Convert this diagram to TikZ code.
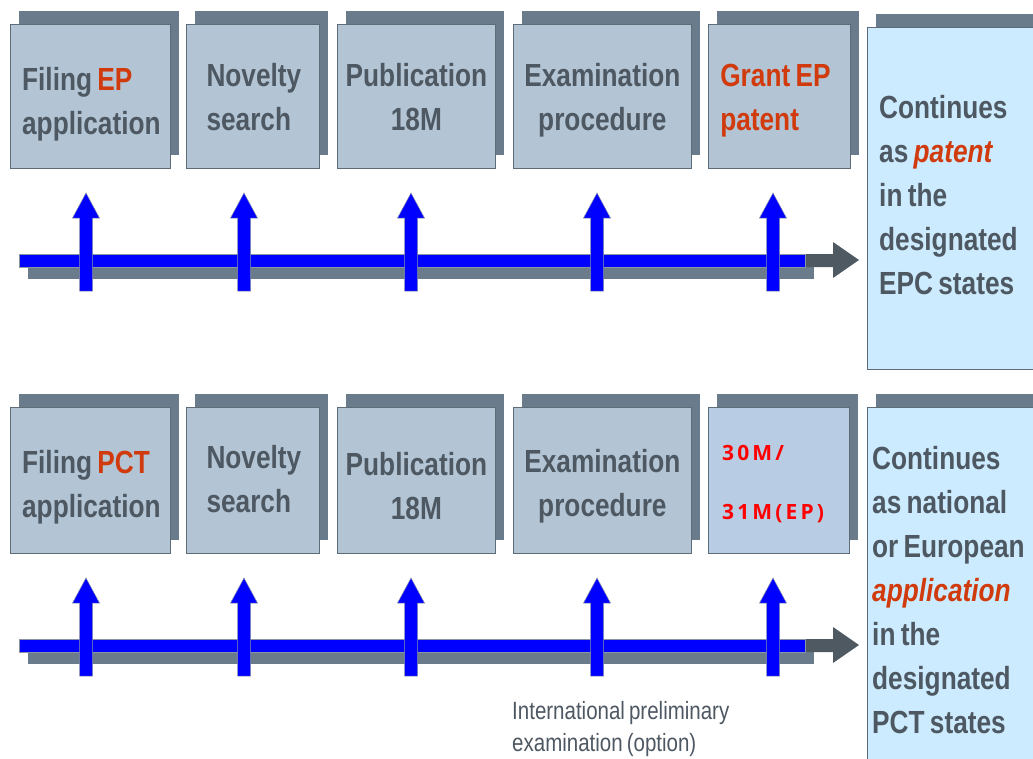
\documentclass[tikz,border=0pt]{standalone}
\usepackage{fontspec}
\setmainfont{Liberation Sans}[FakeStretch=0.82, WordSpace=0.72]
\newfontfamily\numfont{Open Sans}[LetterSpace=15]
\usetikzlibrary{shadows,calc}
\definecolor{boxfill}{HTML}{B3C5D4}
\definecolor{boxfillb}{HTML}{B8CCE3}
\definecolor{boxshadow}{HTML}{6A7B8C}
\definecolor{boxline}{HTML}{5E6C78}
\definecolor{txt}{HTML}{4E5862}
\definecolor{redtxt}{HTML}{D03A0C}
\definecolor{lightbox}{HTML}{CCEBFE}
\definecolor{arrowblue}{HTML}{0000FF}
\definecolor{arrowdark}{HTML}{4F5962}
\definecolor{arrowline}{HTML}{8A94A6}
\tikzset{
  stagebox/.style={draw=boxline, line width=0.8pt, fill=boxfill, anchor=north west,
    minimum height=144pt, inner sep=0pt,
    general shadow={fill=boxshadow, shadow xshift=9pt, shadow yshift=13pt}},
  stagetext/.style={anchor=north, inner sep=0pt, text=txt,
    font=\fontsize{32}{44}\selectfont\bfseries},
  resultbox/.style={draw=boxline, line width=0.8pt, fill=lightbox, anchor=north west,
    minimum width=200pt, inner sep=0pt,
    general shadow={fill=boxshadow, shadow xshift=9pt, shadow yshift=13pt}},
  resulttext/.style={anchor=north west, inner sep=0pt, align=left, text=txt,
    font=\fontsize{32}{44}\selectfont\bfseries},
  barshadow/.style={fill=boxshadow},
  bardark/.style={fill=arrowdark},
  barblue/.style={fill=arrowblue, draw=arrowline, line width=0.5pt},
  uparrow/.style={fill=arrowblue, draw=arrowline, line width=0.5pt},
  note/.style={anchor=north west, inner sep=0pt, align=left, text=txt,
    font=\fontsize{25}{32}\selectfont}
}
% first-line strut height = 0.7 * 44 = 30.8
\begin{document}
\begin{tikzpicture}[x=1pt,y=-1pt]
\useasboundingbox (0,0) rectangle (1033,758);
\clip (0,0) rectangle (1033,758);

% ---------- top row ----------
\node[stagebox, minimum width=160pt] (b1) at (10,24) {};
\node[stagebox, minimum width=133pt] (b2) at (186,24) {};
\node[stagebox, minimum width=158pt] (b3) at (337,24) {};
\node[stagebox, minimum width=178pt] (b4) at (513,24) {};
\node[stagebox, minimum width=142pt] (b5) at (708,24) {};
\node[stagetext, align=left] (tb1) at ($(b1.north)+(1,66-30.8)$) {\strut Filing \textcolor{redtxt}{EP}\\application};
\node[stagetext, align=left] (tb2) at ($(b2.north)+(1,62-30.8)$) {\strut Novelty\\search};
\node[stagetext, align=center] (tb3) at ($(b3.north)+(0,62-30.8)$) {\strut Publication\\18M};
\node[stagetext, align=center] (tb4) at ($(b4.north)+(0,62-30.8)$) {\strut Examination\\procedure};
\node[stagetext, align=left, text=redtxt] (tb5) at ($(b5.north)+(-4,62-30.8)$) {\strut Grant EP\\patent};
\node[resultbox, minimum height=342pt] (r1) at (867,27) {};
\node[resulttext] (tr1) at ($(r1.north west)+(12,91-30.8)$)
  {\strut Continues\\as \textcolor{redtxt}{\itshape patent}\\in the\\designated\\EPC states};

% ---------- bottom row ----------
\node[stagebox, minimum width=160pt, minimum height=146pt] (d1) at (10,407) {};
\node[stagebox, minimum width=133pt, minimum height=146pt] (d2) at (186,407) {};
\node[stagebox, minimum width=158pt, minimum height=146pt] (d3) at (337,407) {};
\node[stagebox, minimum width=178pt, minimum height=146pt] (d4) at (513,407) {};
\node[stagebox, minimum width=141pt, minimum height=146pt, fill=boxfillb] (d5) at (708,407) {};
\node[stagetext, align=left] (td1) at ($(d1.north)+(1,66-30.8)$) {\strut Filing \textcolor{redtxt}{PCT}\\application};
\node[stagetext, align=left] (td2) at ($(d2.north)+(1,61-30.8)$) {\strut Novelty\\search};
\node[stagetext, align=center] (td3) at ($(d3.north)+(0,68-30.8)$) {\strut Publication\\18M};
\node[stagetext, align=center] (td4) at ($(d4.north)+(0,65-30.8)$) {\strut Examination\\procedure};
\node[anchor=north west, inner sep=0pt, align=left, text=red,
  font=\numfont\bfseries\fontsize{21}{59}\selectfont] (td5) at ($(d5.north west)+(14,53-41.3)$) {\strut 30M/\\31M(EP)};
\node[resultbox, minimum height=363pt] (r2) at (867,407) {};
\node[resulttext] (tr2) at ($(r2.north west)+(5,62-30.8)$)
  {\strut Continues\\as national\\or European\\\textcolor{redtxt}{\itshape application}\\in the\\designated\\PCT states};

% ---------- timelines ----------
\foreach \y in {254,639}{
  \fill[barshadow] (28,\y+13) rectangle (814,\y+25);
  \fill[bardark] (19,\y) -- (833,\y) -- (833,\y-12) -- (859,\y+6) -- (833,\y+24)
     -- (833,\y+13) -- (19,\y+13) -- cycle;
  \filldraw[barblue] (19,\y) rectangle (805,\y+13);
  \foreach \x in {86,244,411,597,773}{
    \filldraw[uparrow] (\x-6.5,\y+37) -- (\x-6.5,\y-36) -- (\x-13.5,\y-36) -- (\x,\y-61)
       -- (\x+13.5,\y-36) -- (\x+6.5,\y-36) -- (\x+6.5,\y+37) -- cycle;
  }
}

\node[note] (ipe) at (512,701) {International preliminary\\examination (option)};
\end{tikzpicture}
\end{document}
